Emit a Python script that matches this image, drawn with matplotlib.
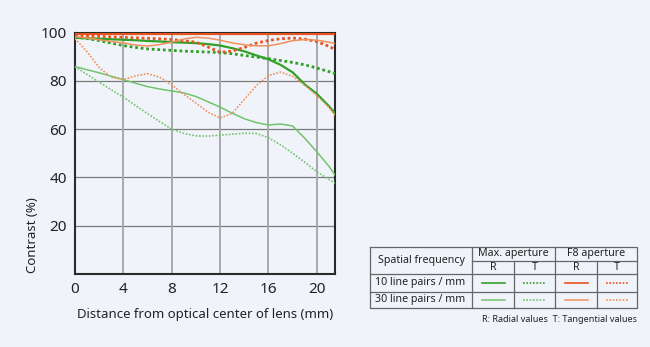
import matplotlib
matplotlib.use('Agg')
import matplotlib.pyplot as plt

plt.rcParams['font.family'] = ['Noto Sans', 'DejaVu Sans']

# 데이터
dist = [0, 1, 2, 3, 4, 5, 6, 7, 8, 9, 10, 11, 12, 13, 14, 15, 16, 17, 18, 19, 20, 21, 21.5]

max_10_r = [97.8, 97.6, 97.4, 97.2, 97.0, 96.8, 96.5, 96.3, 96.0, 95.8, 95.6, 95.2,
            94.6, 93.5, 92.2, 90.5, 88.9, 86.6, 83.5, 78.5, 74.6, 69.5, 66.5]
max_10_t = [98.1, 97.5, 96.6, 95.6, 94.6, 93.8, 93.2, 92.9, 92.6, 92.3, 92.1, 91.9,
            91.7, 91.2, 90.5, 89.8, 89.2, 88.4, 87.6, 86.6, 85.3, 83.8, 83.0]
max_30_r = [85.9, 84.6, 83.3, 81.9, 80.5, 79.0, 77.6, 76.6, 75.8, 75.0, 73.5, 71.3,
            69.1, 66.6, 64.3, 62.7, 61.7, 62.1, 61.3, 56.2, 50.6, 44.6, 41.0]
max_30_t = [85.9, 82.6, 79.4, 76.3, 73.2, 69.8, 66.4, 63.1, 60.0, 58.2, 57.2, 57.1,
            57.5, 57.9, 58.3, 58.2, 56.4, 53.5, 50.0, 46.3, 42.3, 39.2, 37.6]
f8_10_r = [99.5] * len(dist)
f8_10_t = [98.6, 98.5, 98.4, 98.2, 98.0, 97.8, 97.6, 97.4, 97.1, 96.6, 96.0, 94.0,
           91.8, 92.3, 93.8, 95.6, 96.7, 97.4, 97.7, 97.3, 96.2, 94.3, 93.0]
f8_30_r = [98.3, 97.7, 97.0, 96.3, 95.7, 94.8, 94.4, 95.0, 96.0, 97.3, 98.0, 97.7,
           96.8, 95.7, 94.9, 94.5, 94.5, 95.4, 96.6, 97.1, 96.8, 96.0, 95.4]
f8_30_t = [97.5, 92.0, 85.5, 81.5, 80.5, 82.0, 83.0, 81.5, 78.3, 74.4, 70.8, 67.0,
           64.6, 66.5, 72.3, 78.0, 82.2, 83.6, 81.8, 78.2, 73.9, 69.0, 65.7]

x_ticks = [0, 4, 8, 12, 16, 20]
y_ticks = [20, 40, 60, 80, 100]

# 색상 / 선 스타일
bg = '#f0f4fa'
dark_green = '#31a028'
light_green = '#72c46c'
dark_orange = '#e8531e'
light_orange = '#f2905c'
dot = (0, (1, 1))

series = [
    (max_10_r, dark_green, '-', 1.6),
    (max_10_t, dark_green, dot, 2.0),
    (max_30_r, light_green, '-', 1.1),
    (max_30_t, light_green, dot, 1.2),
    (f8_10_r, dark_orange, '-', 1.6),
    (f8_10_t, dark_orange, dot, 2.0),
    (f8_30_r, light_orange, '-', 1.1),
    (f8_30_t, light_orange, dot, 1.2),
]

fig = plt.figure(figsize=(6.5, 3.47), dpi=100, facecolor=bg)
ax = fig.add_axes([75 / 650, 1 - 274 / 347, 260 / 650, 241.5 / 347])
ax.set_facecolor(bg)

for y in [20, 40, 60, 80]:
    ax.axhline(y, color='#7a7a7a', lw=0.9, zorder=1)
for x in [4, 8, 12, 16, 20]:
    ax.axvline(x, color='#a8a8a8', lw=1.4, zorder=1)

for vals, col, ls, lw in series:
    ax.plot(dist, vals, color=col, linestyle=ls, lw=lw, zorder=3)

ax.set_xlim(0, 21.5)
ax.set_ylim(0, 100)
ax.set_xticks(x_ticks)
ax.set_yticks(y_ticks)
ax.tick_params(length=0, labelsize=11, colors='#222222', pad=6)
for s in ax.spines.values():
    s.set_color('#2a2a2a')
    s.set_linewidth(1.5)
ax.set_xlabel('Distance from optical center of lens (mm)', fontsize=9.5,
              color='#222222', labelpad=8)
fig.text(33 / 650, 1 - 273 / 347, 'Contrast (%)', rotation=90, fontsize=9.5,
         color='#222222', ha='center', va='bottom')

# 범례 표
tb = fig.add_axes([0, 0, 1, 1], facecolor='none')
tb.set_xlim(0, 650)
tb.set_ylim(347, 0)
tb.axis('off')
lc = '#666666'
L, R, T, B = 370, 637, 247, 308
c1, c2, c3, c4 = 472, 514, 555, 597
r1, r2, r3 = 260.7, 274, 291.5
tb.plot([L, R, R, L, L], [T, T, B, B, T], color=lc, lw=0.9)
for cx in [c1, c3]:
    tb.plot([cx, cx], [T, B], color=lc, lw=0.9)
for cx in [c2, c4]:
    tb.plot([cx, cx], [r1, B], color=lc, lw=0.9)
tb.plot([c1, R], [r1, r1], color=lc, lw=0.9)
tb.plot([L, R], [r2, r2], color=lc, lw=0.9)
tb.plot([L, R], [r3, r3], color=lc, lw=0.9)

fs = 7.7
tc = '#222222'
tb.text((L + c1) / 2, (T + r2) / 2, 'Spatial frequency', ha='center', va='center', fontsize=fs, color=tc)
tb.text((c1 + c3) / 2, (T + r1) / 2, 'Max. aperture', ha='center', va='center', fontsize=fs, color=tc)
tb.text((c3 + R) / 2, (T + r1) / 2, 'F8 aperture', ha='center', va='center', fontsize=fs, color=tc)
for a, b, t in [(c1, c2, 'R'), (c2, c3, 'T'), (c3, c4, 'R'), (c4, R, 'T')]:
    tb.text((a + b) / 2, (r1 + r2) / 2, t, ha='center', va='center', fontsize=fs, color=tc)
tb.text(L + 5, (r2 + r3) / 2, '10 line pairs / mm', ha='left', va='center', fontsize=fs, color=tc)
tb.text(L + 5, (r3 + B) / 2, '30 line pairs / mm', ha='left', va='center', fontsize=fs, color=tc)

cells = [(c1, c2), (c2, c3), (c3, c4), (c4, R)]
rows = [(r2 + r3) / 2, (r3 + B) / 2]
for i, (vals, col, ls, lw) in enumerate(series):
    a, b = cells[i % 2 + 2 * (i // 4)]
    ry = rows[(i // 2) % 2]
    m = (a + b) / 2
    tb.plot([m - 11.5, m + 11.5], [ry, ry], color=col, linestyle=ls, lw=min(lw, 1.2))

tb.text(R, 320, 'R: Radial values  T: Tangential values', ha='right', va='center',
        fontsize=6.5, color=tc)

fig.savefig('out.png', dpi=100, facecolor=bg)
